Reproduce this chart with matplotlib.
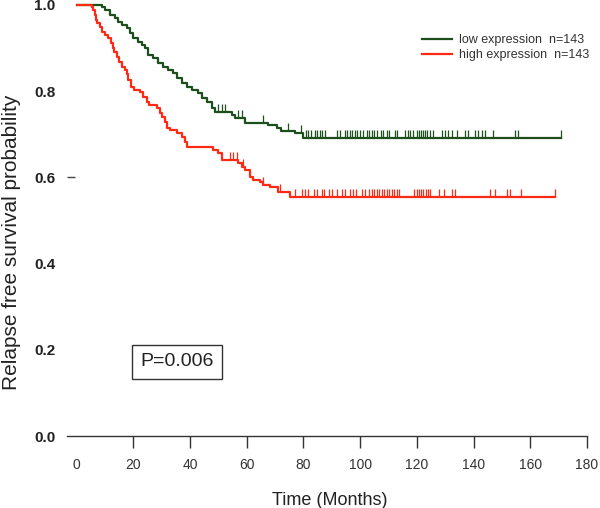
import matplotlib
matplotlib.use("Agg")
import matplotlib.pyplot as plt
import numpy as np

plt.rcParams["font.family"] = ["Liberation Sans", "DejaVu Sans"]

# Kaplan-Meier steps (months, survival after the step)
low_times = [0, 9.0, 10.0, 11.8, 13.6, 14.6, 16.0, 17.8, 18.9, 19.9, 21.7, 23.1,
             24.2, 25.2, 27.0, 28.7, 30.5, 32.3, 34.0, 35.4, 37.2, 39.0, 40.7,
             42.8, 44.3, 46.0, 47.8, 48.8, 54.8, 55.9, 59.4, 67.5, 70.7, 72.1,
             77.0, 79.9]
low_surv = [1.0, 0.995, 0.988, 0.977, 0.970, 0.961, 0.954, 0.947, 0.935, 0.923,
            0.914, 0.907, 0.900, 0.884, 0.877, 0.865, 0.856, 0.849, 0.842, 0.831,
            0.819, 0.810, 0.803, 0.796, 0.784, 0.775, 0.761, 0.752, 0.745, 0.738,
            0.726, 0.721, 0.714, 0.708, 0.703, 0.691]
low_censor = [49.9, 51.2, 52.3, 56.9, 58.4, 65.8, 74.6, 79.0,
              80.9, 81.6, 82.7, 84.1, 84.8, 85.9, 86.6, 87.6, 91.8, 92.9, 94.6,
              95.4, 96.4, 97.1, 98.2, 98.9, 100.0, 101.0, 102.4, 103.1, 104.2,
              104.9, 105.9, 107.4, 108.0, 109.5, 110.2, 112.3, 113.0, 115.8,
              116.9, 117.6, 118.7, 120.1, 120.8, 121.5, 122.2, 122.9, 123.6,
              124.6, 125.7, 128.9, 129.9, 131.0, 132.4, 134.2, 137.0, 138.0,
              140.5, 141.6, 143.0, 144.0, 146.9, 154.6, 155.7, 170.8]

high_times = [0, 5.4, 5.9, 6.5, 6.9, 7.3, 8.3, 8.9, 10.0, 11.1, 12.2, 12.9, 13.2,
              14.3, 15.0, 16.0, 17.1, 17.8, 18.2, 19.2, 20.3, 22.4, 23.4, 24.9,
              25.6, 28.4, 29.4, 30.1, 31.2, 31.9, 33.0, 35.4, 37.2, 38.3, 38.9,
              48.1, 49.9, 51.3, 56.9, 58.4, 59.4, 61.2, 62.2, 64.7, 65.8, 68.2,
              71.0, 75.3]
high_surv = [1.0, 0.996, 0.988, 0.977, 0.965, 0.958, 0.949, 0.937, 0.930, 0.923,
             0.912, 0.900, 0.891, 0.879, 0.868, 0.856, 0.849, 0.840, 0.826, 0.810,
             0.803, 0.798, 0.787, 0.775, 0.768, 0.761, 0.749, 0.740, 0.729, 0.715,
             0.710, 0.703, 0.694, 0.682, 0.671, 0.664, 0.657, 0.640, 0.633, 0.624,
             0.617, 0.601, 0.594, 0.589, 0.582, 0.578, 0.566, 0.555]
high_censor = [54.1, 55.2, 56.6, 58.6, 65.8, 71.8,
               77.0, 79.5, 80.6, 81.6, 83.7, 84.8, 86.6, 87.3, 89.0, 90.1, 91.9,
               93.6, 94.7, 96.4, 97.5, 98.5, 100.7, 101.7, 103.1, 104.2, 104.9,
               106.0, 106.7, 107.7, 108.4, 109.5, 110.2, 111.2, 112.0, 113.0,
               113.7, 119.0, 120.1, 120.8, 121.5, 122.2, 123.2, 123.9, 124.6,
               127.8, 129.6, 132.4, 133.5, 145.8, 147.6, 151.8, 152.9, 156.8,
               168.7]

groups = ["low expression", "high expression"]
group_n = [143, 143]
colors = ["#1d4f1d", "#ff2a14"]
x_ticks = list(range(0, 181, 20))
y_ticks = [0.0, 0.2, 0.4, 0.6, 0.8, 1.0]
p_text = "P=0.006"


def level_at(times, surv, t):
    idx = np.searchsorted(times, t, side="right") - 1
    return np.asarray(surv)[idx]


fig = plt.figure(figsize=(6, 5.08), dpi=100)
ax = fig.add_axes([0.1117, 0.1417, 0.876, 0.857])

series = [(low_times, low_surv, low_censor), (high_times, high_surv, high_censor)]
for (times, surv, cens), color, name, n in zip(series, colors, groups, group_n):
    t_end = max(cens[-1], times[-1])
    xs = list(times) + [t_end]
    ys = list(surv) + [surv[-1]]
    ax.step(xs, ys, where="post", color=color, lw=1.6,
            label=f"{name}  n={n}")
    lv = level_at(times, surv, np.array(cens))
    ax.vlines(cens, lv, lv + 0.018, color=color, lw=0.9)

ax.set_xlim(-3.4, 182)
ax.set_ylim(0, 1.01)

for side in ["top", "right", "left"]:
    ax.spines[side].set_visible(False)
ax.spines["bottom"].set_bounds(-3.4, 180)
ax.spines["bottom"].set_color("#333333")
ax.spines["bottom"].set_linewidth(1.0)

ax.set_xticks(x_ticks)
ax.set_xticklabels([str(v) for v in x_ticks])
ax.tick_params(axis="x", length=8.5, width=1.0, color="#333333", pad=7,
               labelsize=10, labelcolor="#333333")
ax.xaxis.get_major_ticks()[0].tick1line.set_visible(False)

ax.set_yticks(y_ticks)
ax.set_yticklabels([f"{v:.1f}" for v in y_ticks], fontweight="bold")
ax.tick_params(axis="y", length=0, pad=8.5, labelsize=11, labelcolor="#222222")
# stray tick mark next to 0.6 in the original
ax.yaxis.remove_overlapping_locs = False
ax.set_yticks([0.6], minor=True)
ax.tick_params(axis="y", which="minor", direction="in", length=5.8, width=1.0,
               color="#444444")

ax.set_xlabel("Time (Months)", fontsize=13, color="#222222", labelpad=15)
fig.text(12 / 600, 1 - 242 / 508, "Relapse free survival probability",
         rotation=90, ha="center", va="center", fontsize=15, color="#222222")

ax.text(35.4, 0.172, p_text, ha="center", va="center", fontsize=14,
        color="#222222",
        bbox=dict(boxstyle="square,pad=0.45", fc="white", ec="#333333", lw=1))

ax.legend(loc="upper left", bbox_to_anchor=(0.703, 0.933),
          bbox_transform=fig.transFigure, frameon=False, fontsize=9,
          handlelength=2.4, handletextpad=0.55, labelspacing=0.25,
          borderpad=0, borderaxespad=0, labelcolor="#333333")

fig.savefig("out.png", dpi=100)
